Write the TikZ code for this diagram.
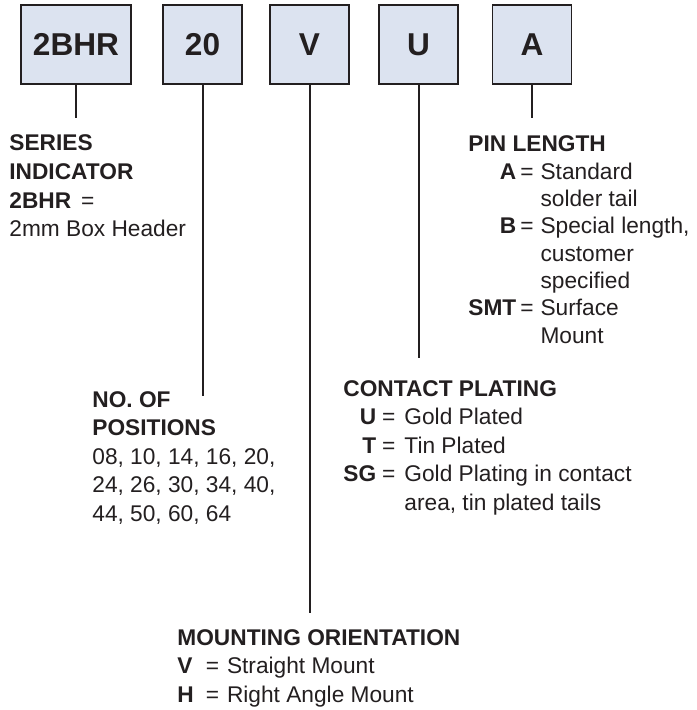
\documentclass[tikz,border=0pt]{standalone}
\usepackage{fontspec}
\setmainfont{Liberation Sans}
\usepackage{xcolor}
\usepackage{tikz}
\usetikzlibrary{positioning}
\definecolor{Ink}{HTML}{231F20}
\definecolor{BoxBlue}{HTML}{DCE3F0}

\begin{document}
\begin{tikzpicture}[x=0.5pt,y=-0.5pt]
  \tikzset{
    code/.style={draw=Ink,fill=BoxBlue,line width=.8pt,minimum width=39.5pt,minimum height=39.5pt,
      inner sep=0pt,text=Ink,font=\bfseries\fontsize{15.8}{18}\selectfont},
    legend/.style={anchor=base west,inner sep=0pt,text=Ink,font=\fontsize{11.35}{14.3}\selectfont},
    lead/.style={Ink,line width=1pt}
  }
  \useasboundingbox (0,0) rectangle (696,710);

  % part number boxes
  \node[code,minimum width=55pt] (ser) at (76,44.5) {2BHR};
  \node[code] (pos) at (202.5,44.5) {20};
  \node[code] (mnt) at (309.5,44.5) {V};
  \node[code] (plt) at (418.5,44.5) {U};
  \node[code] (pin) at (532,44.5) {A};

  % legends
  \node[legend] (serK) at (9,151) {\begin{tabular}[t]{@{}l@{}}
    \textbf{SERIES}\\\textbf{INDICATOR}\\\textbf{2BHR}\hspace{5pt}=\\2mm Box Header\end{tabular}};
  \node[legend,font=\fontsize{11.35}{13.65}\selectfont] (pinK) at (468,152)
    {\begin{tabular}[t]{@{}r@{\hspace{2pt}}c@{\hspace{3.5pt}}l@{}}
    \multicolumn{3}{@{}l@{}}{\textbf{PIN LENGTH}}\\
    \textbf{A}&=&Standard\\&&solder tail\\
    \textbf{B}&=&Special length,\\&&customer\\&&specified\\
    \textbf{SMT}\hspace{-1.5pt}&=&Surface\\&&Mount\end{tabular}};
  \node[legend] (posK) at (92,407) {\begin{tabular}[t]{@{}l@{}}
    \textbf{NO. OF}\\\textbf{POSITIONS}\\08, 10, 14, 16, 20,\\24, 26, 30, 34, 40,\\44, 50, 60, 64\end{tabular}};
  \node[legend] (pltK) at (343,396)
    {\begin{tabular}[t]{@{}r@{\hspace{3pt}}c@{\hspace{4.5pt}}l@{}}
    \multicolumn{3}{@{}l@{}}{\textbf{CONTACT PLATING}}\\
    \textbf{U}&=&Gold Plated\\\textbf{T}&=&Tin Plated\\
    \textbf{SG}\hspace{-2pt}&=&Gold Plating in contact\\&&area, tin plated tails\end{tabular}};
  \node[legend] (mntK) at (177,645)
    {\begin{tabular}[t]{@{}l@{\hspace{6pt}}c@{\hspace{4pt}}l@{}}
    \multicolumn{3}{@{}l@{}}{\textbf{MOUNTING ORIENTATION}}\\
    \textbf{V}&=&Straight Mount\\\textbf{H}&=&Right Angle Mount\end{tabular}};

  % leader lines
  \coordinate (serE) at (76,118);
  \coordinate (posE) at (202.5,396);
  \coordinate (mntE) at (309.5,613);
  \coordinate (pltE) at (418.5,358);
  \coordinate (pinE) at (532,118);
  \draw[lead] (ser.south) -- (serE);
  \draw[lead] (pos.south) -- (posE);
  \draw[lead] (mnt.south) -- (mntE);
  \draw[lead] (plt.south) -- (pltE);
  \draw[lead] (pin.south) -- (pinE);
\end{tikzpicture}
\end{document}
